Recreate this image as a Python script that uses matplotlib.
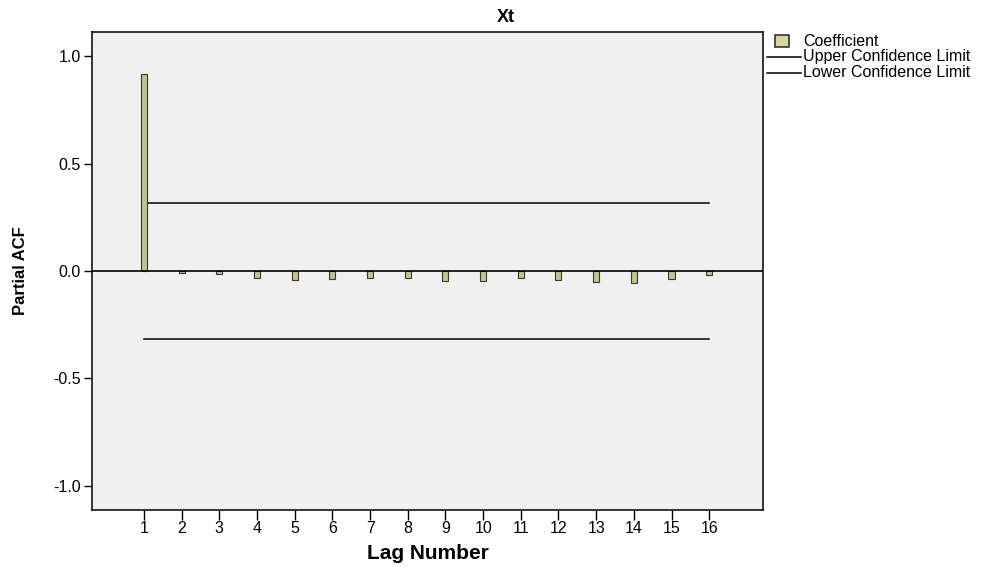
import numpy as np
import matplotlib.pyplot as plt
from matplotlib.patches import Rectangle
from matplotlib.lines import Line2D

plt.rcParams['font.family'] = ['Liberation Sans', 'DejaVu Sans']

# PACF VALUES
lags = np.arange(1, 17)
pacf = [0.916, -0.008, -0.014, -0.031, -0.042, -0.036, -0.031, -0.034,
        -0.047, -0.048, -0.034, -0.043, -0.052, -0.056, -0.038, -0.017]
upper = [0.316] * 16
lower = [-0.316] * 16
labels = ['Coefficient', 'Upper Confidence Limit', 'Lower Confidence Limit']

W, H = 995, 567
fig = plt.figure(figsize=(9.95, 5.67), dpi=100)
ax = fig.add_axes([0.0925, 0.1005, 0.6744, 0.843])
ax.set_facecolor('#f0f0f0')

ax.bar(lags, pacf, width=0.16, color='#c2c28e', edgecolor='#3a3a2a', linewidth=0.8, zorder=3)
ax.plot(lags, upper, color='black', lw=1.1, zorder=2)
ax.plot(lags, lower, color='black', lw=1.1, zorder=2)
ax.axhline(0, color='black', lw=1.2, zorder=4)

ax.set_xlim(-0.38, 17.43)
ax.set_ylim(-1.112, 1.112)
ax.set_xticks(lags)
ax.set_yticks([-1.0, -0.5, 0.0, 0.5, 1.0])
ax.set_yticklabels(['-1.0', '-0.5', '0.0', '0.5', '1.0'])
ax.tick_params(axis='x', direction='out', length=7, width=1, labelsize=11.5, pad=1)
ax.tick_params(axis='y', direction='out', length=6, width=1, labelsize=11.5, pad=2)
for s in ax.spines.values():
    s.set_linewidth(1.1)

ax.set_xlabel('Lag Number', fontsize=15, fontweight='bold', labelpad=6)
ax.set_ylabel('Partial ACF', fontsize=12, fontweight='bold', labelpad=18)
fig.text(506 / W, 1 - 18 / H, 'Xt', ha='center', va='center', fontsize=13, fontweight='bold')

# LEGEND (drawn by hand to get the square swatch)
fig.add_artist(Rectangle((775 / W, 1 - 47 / H), 14 / W, 12 / H, transform=fig.transFigure,
                         facecolor='#d6d6a0', edgecolor='#333333', linewidth=1.2))
for yy in (57, 73):
    fig.add_artist(Line2D([767 / W, 801 / W], [1 - yy / H, 1 - yy / H],
                          transform=fig.transFigure, color='black', lw=1.1))
for lab, yy in zip(labels, (41, 57, 73)):
    fig.text(803 / W, 1 - yy / H, lab, ha='left', va='center', fontsize=11.5)

fig.savefig('out.png', dpi=100)
